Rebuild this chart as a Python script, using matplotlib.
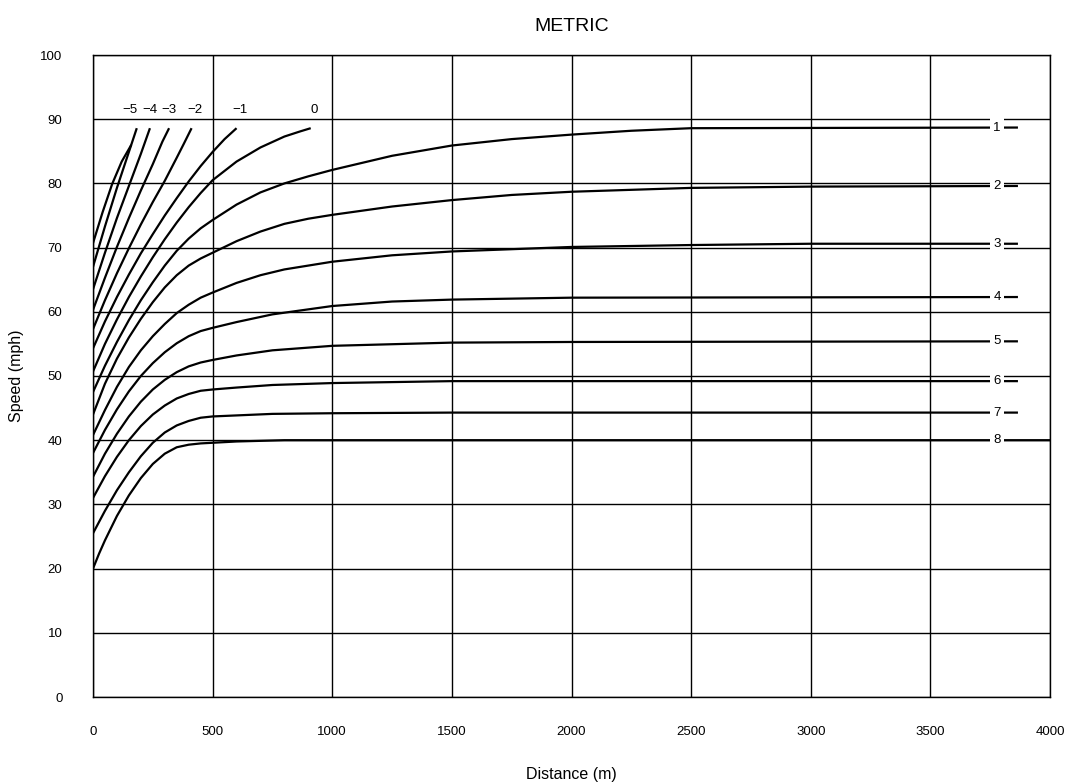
import matplotlib
matplotlib.use("Agg")
import matplotlib.pyplot as plt

plt.rcParams['font.family'] = ['Liberation Sans', 'DejaVu Sans']

# speed-distance curves (distance in m, speed in mph)
c_m5a_x = [0, 40, 80, 120, 160]
c_m5a_y = [70.7, 75.5, 79.9, 83.4, 86.0]
c_m5_x = [0, 50, 100, 150, 183]
c_m5_y = [67.0, 73.3, 79.3, 84.9, 88.6]
c_m4_x = [0, 50, 100, 150, 200, 238]
c_m4_y = [63.5, 69.2, 74.6, 79.6, 84.6, 88.6]
c_m3_x = [0, 50, 100, 150, 200, 250, 290, 318]
c_m3_y = [60.3, 65.3, 70.1, 74.6, 78.9, 83.0, 86.5, 88.6]
c_m2_x = [0, 50, 100, 150, 200, 250, 300, 350, 380, 412]
c_m2_y = [57.3, 61.8, 66.0, 69.9, 73.6, 77.1, 80.4, 84.0, 86.2, 88.6]
c_m1_x = [0, 50, 100, 150, 200, 250, 300, 350, 400, 450, 500, 550, 600]
c_m1_y = [54.3, 58.5, 62.3, 65.8, 69.1, 72.1, 75.0, 77.7, 80.3, 82.7, 84.9, 86.9, 88.6]
c_0_x = [0, 50, 100, 150, 200, 250, 300, 350, 400, 450, 500, 600, 700, 800, 866, 910]
c_0_y = [50.7, 55.0, 58.8, 62.3, 65.5, 68.5, 71.3, 73.9, 76.3, 78.5, 80.5, 83.4, 85.6, 87.3, 88.1, 88.6]
c_1_x = [0, 50, 100, 150, 200, 250, 300, 350, 400, 450, 500, 600, 700, 800, 900, 1000,
         1250, 1500, 1750, 2000, 2250, 2500, 3866]
c_1_y = [47.5, 51.6, 55.3, 58.7, 61.8, 64.6, 67.2, 69.5, 71.4, 73.0, 74.3, 76.7, 78.6, 80.0, 81.1, 82.1,
         84.3, 85.9, 86.9, 87.6, 88.2, 88.6, 88.7]
c_2_x = [0, 50, 100, 150, 200, 250, 300, 350, 400, 450, 500, 600, 700, 800, 900, 1000,
         1250, 1500, 1750, 2000, 2500, 3000, 3866]
c_2_y = [44.0, 48.8, 52.7, 56.0, 58.9, 61.5, 63.8, 65.7, 67.2, 68.3, 69.2, 71.0, 72.5, 73.7, 74.5, 75.1,
         76.4, 77.4, 78.2, 78.7, 79.3, 79.5, 79.6]
c_3_x = [0, 50, 100, 150, 200, 250, 300, 350, 400, 450, 500, 600, 700, 800, 1000,
         1250, 1500, 2000, 2500, 3000, 3866]
c_3_y = [40.8, 44.7, 48.3, 51.4, 54.0, 56.2, 58.1, 59.8, 61.1, 62.2, 63.0, 64.5, 65.7, 66.6, 67.8,
         68.8, 69.4, 70.1, 70.4, 70.6, 70.6]
c_4_x = [0, 50, 100, 150, 200, 250, 300, 350, 400, 450, 500, 600, 750, 1000, 1250, 1500, 2000, 3866]
c_4_y = [38.0, 41.6, 44.8, 47.6, 50.0, 52.0, 53.7, 55.1, 56.2, 57.0, 57.5, 58.4, 59.6, 60.9, 61.6, 61.9, 62.2, 62.3]
c_5_x = [0, 50, 100, 150, 200, 250, 300, 350, 400, 450, 500, 600, 750, 1000, 1500, 2000, 3866]
c_5_y = [34.3, 37.9, 41.0, 43.7, 46.0, 47.9, 49.4, 50.6, 51.5, 52.1, 52.5, 53.2, 54.0, 54.7, 55.2, 55.3, 55.4]
c_6_x = [0, 50, 100, 150, 200, 250, 300, 350, 400, 450, 500, 600, 750, 1000, 1500, 3866]
c_6_y = [31.0, 34.4, 37.4, 40.0, 42.2, 44.0, 45.4, 46.5, 47.2, 47.7, 47.9, 48.2, 48.6, 48.9, 49.2, 49.2]
c_7_x = [0, 50, 100, 150, 200, 250, 300, 350, 400, 450, 500, 750, 1000, 1500, 3866]
c_7_y = [25.5, 29.0, 32.2, 35.0, 37.5, 39.6, 41.2, 42.3, 43.0, 43.5, 43.7, 44.1, 44.2, 44.3, 44.3]
c_8_x = [0, 25, 50, 100, 150, 200, 250, 300, 350, 400, 450, 500, 600, 800, 4000]
c_8_y = [20.0, 22.3, 24.4, 28.2, 31.4, 34.1, 36.3, 37.9, 38.9, 39.3, 39.5, 39.6, 39.8, 40.0, 40.0]

top_curves = [(c_m5_x, c_m5_y), (c_m4_x, c_m4_y), (c_m3_x, c_m3_y),
              (c_m2_x, c_m2_y), (c_m1_x, c_m1_y), (c_0_x, c_0_y)]
top_labels = ['\u22125', '\u22124', '\u22123', '\u22122', '\u22121', '0']
top_label_x = [155, 238, 318, 427, 615, 924]

side_curves = [(c_1_x, c_1_y), (c_2_x, c_2_y), (c_3_x, c_3_y), (c_4_x, c_4_y),
               (c_5_x, c_5_y), (c_6_x, c_6_y), (c_7_x, c_7_y), (c_8_x, c_8_y)]
side_labels = ['1', '2', '3', '4', '5', '6', '7', '8']

fig = plt.figure(figsize=(10.7, 7.82), dpi=100)
ax = fig.add_axes([93 / 1070, 85 / 782, 957 / 1070, 642 / 782])

for xs, ys in [(c_m5a_x, c_m5a_y)] + top_curves + side_curves:
    ax.plot(xs, ys, color='black', lw=1.6, solid_capstyle='butt', zorder=3)

for lab, lx in zip(top_labels, top_label_x):
    ax.text(lx, 91.4, lab, ha='center', va='center', fontsize=9.5, zorder=5)

for lab, (xs, ys) in zip(side_labels, side_curves):
    ax.text(3778, ys[-1], lab, ha='center', va='center', fontsize=9.5, zorder=5,
            bbox=dict(facecolor='white', edgecolor='none', pad=2.3))

ax.set_xlim(0, 4000)
ax.set_ylim(0, 100)
ax.set_xticks(range(0, 4001, 500))
ax.set_yticks(range(0, 101, 10))
ax.grid(True, color='black', lw=1.0)
ax.set_axisbelow(True)
for sp in ax.spines.values():
    sp.set_linewidth(1.0)
ax.tick_params(length=0, labelsize=9.5)
ax.tick_params(axis='y', pad=22)
ax.tick_params(axis='x', pad=21)

ax.set_xlabel('Distance (m)', fontsize=11.5, labelpad=21)
ax.set_ylabel('Speed (mph)', fontsize=11.5, labelpad=12)
ax.set_title('METRIC', fontsize=14, pad=17)

fig.savefig('out.png', dpi=100)
